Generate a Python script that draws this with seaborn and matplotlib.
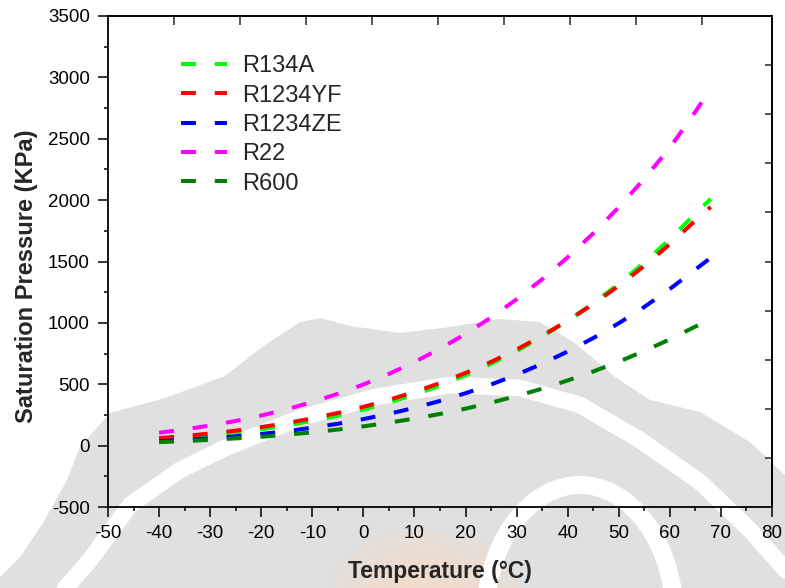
import numpy as np
import pandas as pd
import matplotlib
matplotlib.use("Agg")
import matplotlib.pyplot as plt
import seaborn as sns
from matplotlib.patches import Polygon, Ellipse
from matplotlib.lines import Line2D

# ---------------- data ----------------
temperature = [-40, -35, -30, -25, -20, -15, -10, -5, 0, 5, 10, 15, 20, 25,
               30, 35, 40, 45, 50, 55, 60, 65, 68]
r134a   = [51, 66, 84, 107, 133, 164, 201, 243, 293, 350, 415, 489, 572, 666,
           770, 888, 1017, 1160, 1318, 1492, 1682, 1890, 2010]
r1234yf = [62, 78, 99, 122, 151, 184, 222, 266, 316, 373, 437, 510, 592, 682,
           783, 895, 1018, 1153, 1302, 1464, 1641, 1834, 1945]
r1234ze = [36, 47, 60, 76, 95, 118, 146, 178, 216, 259, 308, 364, 427, 498,
           578, 667, 767, 876, 997, 1130, 1276, 1435, 1530]
r22     = [105, 132, 164, 201, 245, 296, 355, 422, 498, 584, 681, 789, 910, 1044,
           1192, 1355, 1534, 1729, 1942, 2174, 2427, 2720, 2910]
r600    = [29, 37, 47, 59, 72, 89, 108, 131, 157, 187, 220, 258, 301, 350,
           404, 464, 531, 604, 684, 771, 866, 970, 1025]

names = ["R134A", "R1234YF", "R1234ZE", "R22", "R600"]
series = [r134a, r1234yf, r1234ze, r22, r600]
colors = ["#00FF00", "#FF0000", "#0000FF", "#FF00FF", "#008000"]

x_ticks = [-50, -40, -30, -20, -10, 0, 10, 20, 30, 40, 50, 60, 70, 80]
y_ticks = [-500, 0, 500, 1000, 1500, 2000, 2500, 3000, 3500]
top_ticks = [-37.08 + 12.92 * k for k in range(9)]
right_ticks = [3100, 2700, 2300, 1900, 1500, 1100, 700, 300, -100]

df = pd.DataFrame({
    "T": np.tile(temperature, len(names)),
    "P": np.concatenate(series),
    "ref": np.repeat(names, len(temperature)),
})

# ---------------- style ----------------
sns.set_style("ticks")
plt.rcParams["font.family"] = ["Liberation Sans", "DejaVu Sans"]
plt.rcParams["axes.unicode_minus"] = False

W, H = 785, 588
fig = plt.figure(figsize=(W / 100, H / 100), dpi=100)
fig.patch.set_facecolor("white")

def fx(x):
    return x / W

def fy(y):
    return 1 - y / H

# ---------------- faint background watermark ----------------
gray = "#E0E0E0"
top_edge = [(0, 577), (20, 557), (43, 523), (67, 480), (80, 447), (110, 413),
            (165, 398), (225, 376), (265, 345), (300, 322), (320, 318),
            (350, 326), (400, 333), (450, 327), (500, 319), (540, 322),
            (575, 343), (615, 377), (650, 400), (700, 412), (750, 442),
            (785, 475), (785, 588), (0, 588)]
fig.add_artist(Polygon([(fx(a), fy(b)) for a, b in top_edge], closed=True,
                       facecolor=gray, edgecolor="none", zorder=-10,
                       transform=fig.transFigure))
band = [(55, 600), (90, 560), (130, 505), (180, 470), (225, 448), (300, 418),
        (375, 397), (450, 385), (520, 388), (580, 405), (640, 440),
        (700, 482), (750, 530), (790, 575)]
fig.add_artist(Line2D([fx(a) for a, b in band], [fy(b) for a, b in band],
                      color="white", lw=12, solid_joinstyle="round",
                      transform=fig.transFigure, zorder=-9))
for scale in (1.0, 0.8, 0.6, 0.4):
    fig.add_artist(Ellipse((fx(425), fy(595)), 190 * scale / W,
                           130 * scale / H, facecolor="#F4DCC8",
                           edgecolor="none", alpha=0.3,
                           transform=fig.transFigure, zorder=-8))
fig.add_artist(Ellipse((fx(580), fy(620)), 190 / W, 270 / H,
                       facecolor="none", edgecolor="white", lw=13,
                       transform=fig.transFigure, zorder=-7))

# ---------------- axes ----------------
ax = fig.add_axes([108 / W, 1 - 507 / H, 664 / W, 491 / H])
ax.set_facecolor("none")

sns.lineplot(data=df, x="T", y="P", hue="ref", style="ref",
             hue_order=names, style_order=names,
             palette=dict(zip(names, colors)),
             dashes={n: (3.7, 4.7) for n in names},
             linewidth=2.9, ax=ax, legend=True)

ax.set_xlim(-50, 80)
ax.set_ylim(-500, 3500)
ax.set_xticks(x_ticks)
ax.set_yticks(y_ticks)
ax.set_xticks([v + 5 for v in x_ticks[:-1]], minor=True)
ax.set_yticks([v + 250 for v in y_ticks[:-1]], minor=True)
ax.tick_params(axis="both", which="major", direction="out", length=7,
               width=1.1, labelsize=13.5, color="black", labelcolor="black")
ax.tick_params(axis="both", which="minor", direction="out", length=3.2,
               width=1.1, color="black")
ax.tick_params(axis="x", pad=6)
ax.tick_params(axis="y", pad=6)

for s in ax.spines.values():
    s.set_visible(True)
    s.set_linewidth(1.3)
    s.set_color("black")

sec_x = ax.secondary_xaxis("top")
sec_x.set_xticks(top_ticks)
sec_x.tick_params(direction="in", length=6.5, width=1.1, labeltop=False)
sec_x.set_xticklabels([])
sec_x.spines["top"].set_linewidth(1.3)

sec_y = ax.secondary_yaxis("right")
sec_y.set_yticks(right_ticks)
sec_y.tick_params(direction="in", length=5, width=1.1, labelright=False)
sec_y.set_yticklabels([])
sec_y.spines["right"].set_linewidth(1.3)

ax.set_xlabel("Temperature (°C)", fontsize=16.5, fontweight="bold",
              labelpad=13)
ax.set_ylabel("Saturation Pressure (KPa)", fontsize=17, fontweight="bold")
ax.yaxis.set_label_coords(-0.106, 0.47)

handles, labels = ax.get_legend_handles_labels()
ax.legend(handles, labels, loc="upper left", bbox_to_anchor=(0.11, 0.92),
          frameon=False, fontsize=17, handlelength=1.95, handletextpad=0.64,
          labelspacing=0.31, borderpad=0, borderaxespad=0)

fig.savefig("out.png", dpi=100, facecolor="white")
